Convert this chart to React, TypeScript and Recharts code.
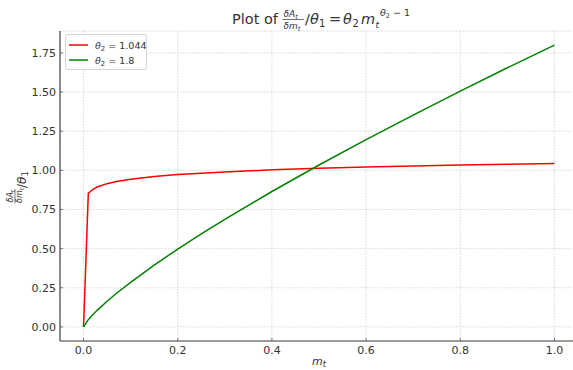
import React from "react";
import { LineChart, Line, XAxis, YAxis, CartesianGrid } from "recharts";

// m_t sample positions
const mValues = [0, 0.0101, 0.02, 0.03, 0.05, 0.07, 0.1, 0.15, 0.2, 0.25, 0.3, 0.4, 0.5, 0.6, 0.7, 0.8, 0.9, 1.0];
// theta2 = 1.044 (red)
const redValues = [0, 0.853, 0.879, 0.895, 0.915, 0.929, 0.943, 0.96, 0.973, 0.982, 0.99, 1.003, 1.013, 1.021, 1.028, 1.034, 1.039, 1.044];
// theta2 = 1.8 (green)
const greenValues = [0, 0.046, 0.079, 0.109, 0.164, 0.215, 0.285, 0.395, 0.497, 0.594, 0.687, 0.865, 1.034, 1.196, 1.353, 1.506, 1.655, 1.8];

const xTicks = [0, 0.2, 0.4, 0.6, 0.8, 1.0];
const yTicks = [0, 0.25, 0.5, 0.75, 1.0, 1.25, 1.5, 1.75];
const xDomain = [-0.05, 1.05];
const yDomain = [-0.09, 1.89];

const data = mValues.map((m, i) => ({ m, red: redValues[i], green: greenValues[i] }));

const FONT = "'DejaVu Sans', sans-serif";
const TXT = "#333333";

const XTick = (props: any) => {
  const { x, y, payload } = props;
  return (
    <g>
      <line x1={x} x2={x} y1={y} y2={y - 3} stroke="#555" strokeWidth={0.8} />
      <text x={x} y={y + 13} textAnchor="middle" fontFamily={FONT} fontSize={11} fill={TXT}>
        {Number(payload.value).toFixed(1)}
      </text>
    </g>
  );
};

const YTick = (props: any) => {
  const { x, y, payload } = props;
  return (
    <g>
      <line x1={x} x2={x + 3} y1={y} y2={y} stroke="#555" strokeWidth={0.8} />
      <text x={x - 4} y={y + 4} textAnchor="end" fontFamily={FONT} fontSize={11} fill={TXT}>
        {Number(payload.value).toFixed(2)}
      </text>
    </g>
  );
};

const Overlay = () => (
  <svg width={573} height={370} style={{ position: "absolute", left: 0, top: 0, pointerEvents: "none" }}>
    {/* Title */}
    <g fontFamily={FONT} fill={TXT}>
      <text x={232} y={24} fontSize={14.5}>Plot of</text>
      <text x={283.5} y={16.5} fontSize={9}><tspan fontStyle="italic">δA</tspan><tspan fontSize={6.5} dy={2} fontStyle="italic">t</tspan></text>
      <line x1={282.5} x2={304} y1={19.5} y2={19.5} stroke={TXT} strokeWidth={0.7} />
      <text x={283.5} y={28.5} fontSize={9}><tspan fontStyle="italic">δm</tspan><tspan fontSize={6.5} dy={2} fontStyle="italic">t</tspan></text>
      <text x={305} y={24} fontSize={14.5}>/</text>
      <text x={310} y={24} fontSize={14.5} fontStyle="italic">θ</text>
      <text x={319} y={27} fontSize={10}>1</text>
      <text x={329} y={24} fontSize={14.5}>=</text>
      <text x={343} y={24} fontSize={14.5} fontStyle="italic">θ</text>
      <text x={352.5} y={27} fontSize={10}>2</text>
      <text x={361} y={24} fontSize={14.5} fontStyle="italic">m</text>
      <text x={375.5} y={28} fontSize={9} fontStyle="italic">t</text>
      <text x={380} y={15.5} fontSize={9.5}><tspan fontStyle="italic">θ</tspan><tspan fontSize={6.5} dy={2}>2</tspan><tspan dy={-2}> − 1</tspan></text>
    </g>
    {/* Y label */}
    <g transform="translate(26,204) rotate(-90)" fontFamily={FONT} fill={TXT}>
      <text x={1.5} y={-13} fontSize={8}><tspan fontStyle="italic">δA</tspan><tspan fontSize={6} dy={1.5} fontStyle="italic">t</tspan></text>
      <line x1={0.5} x2={15} y1={-11} y2={-11} stroke={TXT} strokeWidth={0.6} />
      <text x={1} y={-4} fontSize={8}><tspan fontStyle="italic">δm</tspan><tspan fontSize={6} dy={1.5} fontStyle="italic">t</tspan></text>
      <text x={16} y={0} fontSize={12}>/<tspan fontStyle="italic">θ</tspan><tspan fontSize={8.5} dy={2}>1</tspan></text>
    </g>
    {/* X label */}
    <text x={312} y={365} fontFamily={FONT} fontSize={11} fill={TXT}>
      <tspan fontStyle="italic">m</tspan><tspan fontSize={8} dy={2} fontStyle="italic">t</tspan>
    </text>
    {/* Legend */}
    <g fontFamily={FONT}>
      <rect x={65.5} y={34.5} width={81} height={35} rx={2} fill="#ffffff" fillOpacity={0.85} stroke="#cccccc" strokeWidth={0.8} />
      <line x1={69} x2={88} y1={45} y2={45} stroke="#ff0000" strokeWidth={1.5} />
      <line x1={69} x2={88} y1={60} y2={60} stroke="#008000" strokeWidth={1.5} />
      <text x={95} y={48.5} fontSize={9.5} fill={TXT}><tspan fontStyle="italic">θ</tspan><tspan fontSize={7} dy={2}>2</tspan><tspan dy={-2}> = 1.044</tspan></text>
      <text x={95} y={63.5} fontSize={9.5} fill={TXT}><tspan fontStyle="italic">θ</tspan><tspan fontSize={7} dy={2}>2</tspan><tspan dy={-2}> = 1.8</tspan></text>
    </g>
  </svg>
);

export default function App() {
  return (
    <div style={{ position: "fixed", left: 0, top: 0, width: 573, height: 370, overflow: "hidden", background: "#ffffff" }}>
      <LineChart width={578} height={370} data={data} margin={{ top: 31, right: 0, bottom: 0, left: 0 }}>
        <CartesianGrid stroke="#cfcfcf" strokeDasharray="1.5 1.5" strokeWidth={0.8} />
        <XAxis
          dataKey="m"
          type="number"
          domain={xDomain}
          ticks={xTicks}
          allowDataOverflow
          height={29}
          tickLine={false}
          tickSize={0}
          tickMargin={0}
          tick={<XTick />}
          axisLine={{ stroke: "#444", strokeWidth: 1.2 }}
          interval={0}
        />
        <YAxis
          type="number"
          domain={yDomain}
          ticks={yTicks}
          allowDataOverflow
          width={60}
          tickLine={false}
          tickSize={0}
          tickMargin={0}
          tick={<YTick />}
          axisLine={{ stroke: "#444", strokeWidth: 1.2 }}
          interval={0}
        />
        <Line type="linear" dataKey="red" stroke="#ff0000" strokeWidth={1.5} dot={false} isAnimationActive={false} />
        <Line type="linear" dataKey="green" stroke="#008000" strokeWidth={1.5} dot={false} isAnimationActive={false} />
      </LineChart>
      <Overlay />
    </div>
  );
}
